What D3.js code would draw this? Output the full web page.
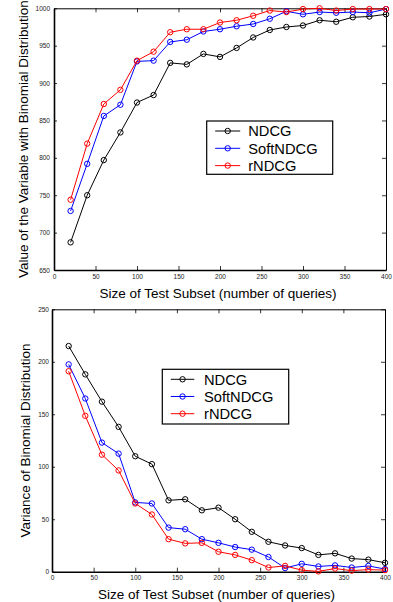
<!DOCTYPE html>
<html>
<head>
<meta charset="utf-8">
<script src="https://cdn.jsdelivr.net/npm/d3@7"></script>
<style>
    body { margin: 0; background: #fff; }
    svg { display: block; font-family: "Liberation Sans", Arial, Helvetica, sans-serif; }
    .tick text { fill: #222; }
</style>
</head>
<body>
<div id="chart"></div>
<script>
const sizes = [20, 40, 60, 80, 100, 120, 140, 160, 180, 200, 220, 240, 260, 280, 300, 320, 340, 360, 380, 400];
const seriesNames = ['NDCG', 'SoftNDCG', 'rNDCG'];
const seriesColors = ['#000000', '#0000ff', '#ff0000'];

// top panel: value of the variable
const valueNdcg = [687, 750, 797, 834, 874, 884, 927, 925, 939, 935, 947, 961, 971, 975, 977, 984, 982, 988, 989, 992];
const valueSoft = [729, 792, 856, 871, 929, 930, 955, 958, 969, 972, 976, 979, 986, 996, 992, 995, 994, 995, 994, 999];
const valueR = [744, 819, 872, 891, 930, 942, 968, 972, 972, 981, 984, 990, 997, 995, 999, 1000, 997, 999, 999, 999];

// bottom panel: variance
const varNdcg = [215, 188, 162, 138, 110, 102.5, 68, 69, 58.5, 61, 50, 38, 28.5, 25, 22.5, 16, 17.5, 12.5, 11.5, 8.5];
const varSoft = [197.5, 165, 123, 112.5, 66, 65, 42, 40.5, 31, 27.5, 23.5, 21, 14, 3.5, 7.5, 5, 6, 4, 5.5, 2.5];
const varR = [191, 148.5, 111.5, 96.5, 65, 54.5, 31, 27, 27.5, 19, 16, 11, 4, 5.5, 1.5, 0.3, 3, 1, 2, 1.5];

const xTicks = [0, 50, 100, 150, 200, 250, 300, 350, 400];
const valueTicks = [650, 700, 750, 800, 850, 900, 950, 1000];
const varTicks = [0, 50, 100, 150, 200, 250];

const xLabel = 'Size of Test Subset (number of queries)';

const svg = d3.select('#chart').append('svg')
    .attr('width', 393)
    .attr('height', 602);

function panel({ left, right, top, bottom, yDomain, yTicks, series, yLabel, yLabelX, legend, xLabelY, yPad }) {
    const x = d3.scaleLinear().domain([0, 400]).range([left, right]);
    const y = d3.scaleLinear().domain(yDomain).range([bottom, top]);
    const g = svg.append('g');
    const fmt = d3.format('d');

    const styleAxis = (sel, width) => {
        sel.select('.domain').attr('stroke-width', width);
        sel.selectAll('.tick line').attr('stroke-width', 0.8);
        sel.selectAll('.tick text').attr('font-size', 6.5);
    };

    g.append('g')
        .attr('transform', `translate(0,${top})`)
        .call(d3.axisTop(x).tickValues(xTicks).tickSize(-4).tickSizeOuter(0).tickFormat(''))
        .call(s => styleAxis(s, 1));
    g.append('g')
        .attr('transform', `translate(${right},0)`)
        .call(d3.axisRight(y).tickValues(yTicks).tickSize(-4).tickSizeOuter(0).tickFormat(''))
        .call(s => styleAxis(s, 1));
    g.append('g')
        .attr('transform', `translate(0,${bottom})`)
        .call(d3.axisBottom(x).tickValues(xTicks).tickSize(-4).tickSizeOuter(0).tickPadding(4).tickFormat(fmt))
        .call(s => styleAxis(s, 1.6));
    g.append('g')
        .attr('transform', `translate(${left},0)`)
        .call(d3.axisLeft(y).tickValues(yTicks).tickSize(-3).tickSizeOuter(0).tickPadding(yPad).tickFormat(fmt))
        .call(s => styleAxis(s, 1.6));

    const line = d3.line().x((d, i) => x(sizes[i])).y(d => y(d));

    series.forEach((vals, k) => {
        g.append('path')
            .datum(vals)
            .attr('fill', 'none')
            .attr('stroke', seriesColors[k])
            .attr('stroke-width', 1)
            .attr('d', line);
        g.selectAll(null)
            .data(vals)
            .enter()
            .append('circle')
            .attr('cx', (d, i) => x(sizes[i]))
            .attr('cy', d => y(d))
            .attr('r', 2.7)
            .attr('fill', 'none')
            .attr('stroke', seriesColors[k])
            .attr('stroke-width', 1);
    });

    g.append('text')
        .attr('x', (left + right) / 2 - 2)
        .attr('y', xLabelY)
        .attr('text-anchor', 'middle')
        .attr('font-size', 13.5)
        .text(xLabel);

    g.append('text')
        .attr('transform', `translate(${yLabelX},${(top + bottom) / 2}) rotate(-90)`)
        .attr('text-anchor', 'middle')
        .attr('font-size', 13.5)
        .text(yLabel);

    // legend
    const lg = g.append('g').attr('transform', `translate(${legend.x},${legend.y})`);
    lg.append('rect')
        .attr('width', legend.w)
        .attr('height', legend.h)
        .attr('fill', '#fff')
        .attr('stroke', '#000')
        .attr('stroke-width', 1.2);
    seriesNames.forEach((name, k) => {
        const cy = legend.row0 + k * legend.step;
        lg.append('line')
            .attr('x1', legend.lx1).attr('x2', legend.lx2)
            .attr('y1', cy).attr('y2', cy)
            .attr('stroke', seriesColors[k]);
        lg.append('circle')
            .attr('cx', (legend.lx1 + legend.lx2) / 2)
            .attr('cy', cy)
            .attr('r', 2.7)
            .attr('fill', 'none')
            .attr('stroke', seriesColors[k]);
        lg.append('text')
            .attr('x', legend.tx)
            .attr('y', cy + 5.3)
            .attr('font-size', 14.7)
            .text(name);
    });
}

panel({
    left: 54, right: 386, top: 8.3, bottom: 270,
    yDomain: [650, 1000], yTicks: valueTicks,
    series: [valueNdcg, valueSoft, valueR],
    yLabel: 'Value of the Variable with Binomial Distribution',
    yLabelX: 28, xLabelY: 298, yPad: 4,
    legend: { x: 206.7, y: 121, w: 126, h: 53.3, row0: 10, step: 17.3, lx1: 8.5, lx2: 33.5, tx: 41.5 },
});

panel({
    left: 52, right: 385, top: 309.3, bottom: 571.7,
    yDomain: [0, 250], yTicks: varTicks,
    series: [varNdcg, varSoft, varR],
    yLabel: 'Variance of Binomial Distribution',
    yLabelX: 30, xLabelY: 599, yPad: 3,
    legend: { x: 162.3, y: 369.3, w: 126.4, h: 54.7, row0: 10, step: 17.2, lx1: 8.5, lx2: 32, tx: 41.7 },
});
</script>
</body>
</html>
